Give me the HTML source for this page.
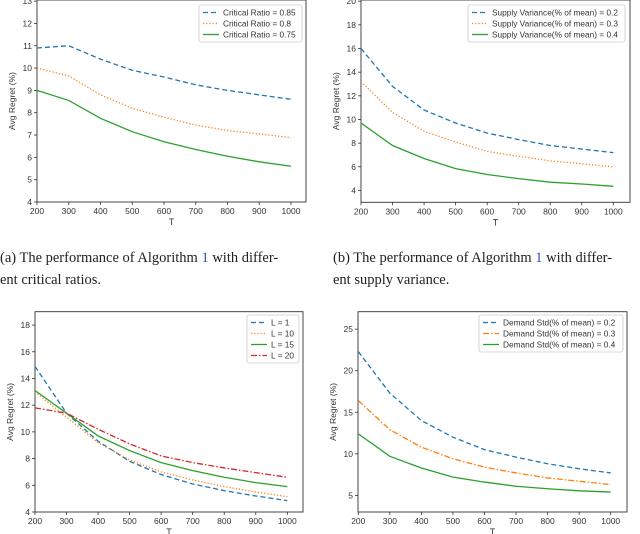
<!DOCTYPE html>
<html><head><meta charset="utf-8"><style>
body{margin:0;background:#fff;width:640px;height:534px;overflow:hidden;position:relative;font-family:"Liberation Serif",serif}
.cap{position:absolute;font-size:14.5px;line-height:22px;color:#222;white-space:nowrap}
.cap span{color:#2a52be}
svg{position:absolute;left:0;top:0}
</style></head><body>
<svg id="svg" width="640" height="534" font-family="Liberation Sans, sans-serif"></svg>
<div class="cap" style="left:0;top:247px">(a) The performance of Algorithm <span>1</span> with differ-<br>ent critical ratios.</div>
<div class="cap" style="left:333px;top:247px">(b) The performance of Algorithm <span>1</span> with differ-<br>ent supply variance.</div>
<script>
const xs=[200,300,400,500,600,700,800,900,1000];
const xTicks=[200,300,400,500,600,700,800,900,1000];
const c1Labels=["Critical Ratio = 0.85","Critical Ratio = 0.8","Critical Ratio = 0.75"];
const c1Blue=[10.9,11.0,10.4,9.9,9.6,9.25,9.0,8.8,8.6];
const c1Orange=[10.0,9.65,8.8,8.2,7.8,7.45,7.2,7.05,6.88];
const c1Green=[9.0,8.55,7.75,7.15,6.7,6.35,6.05,5.8,5.6];
const c1YTicks=[4,5,6,7,8,9,10,11,12,13];
const c2Labels=["Supply Variance(% of mean) = 0.2","Supply Variance(% of mean) = 0.3","Supply Variance(% of mean) = 0.4"];
const c2Blue=[16.0,12.8,10.8,9.7,8.85,8.3,7.8,7.5,7.2];
const c2Orange=[13.2,10.6,9.0,8.1,7.3,6.9,6.5,6.25,6.0];
const c2Green=[9.7,7.8,6.7,5.85,5.35,5.0,4.7,4.55,4.35];
const c2YTicks=[4,6,8,10,12,14,16,18,20];
const c3Labels=["L = 1","L = 10","L = 15","L = 20"];
const c3L1=[14.9,11.4,9.3,7.8,6.8,6.1,5.6,5.2,4.85];
const c3L10=[13.0,11.1,9.2,7.9,7.0,6.4,5.9,5.5,5.15];
const c3L15=[13.1,11.4,9.7,8.6,7.7,7.1,6.6,6.2,5.9];
const c3L20=[11.8,11.4,10.2,9.1,8.2,7.7,7.3,6.95,6.6];
const c3YTicks=[4,6,8,10,12,14,16,18];
const c4Labels=["Demand Std(% of mean) = 0.2","Demand Std(% of mean) = 0.3","Demand Std(% of mean) = 0.4"];
const c4Blue=[22.3,17.3,14.0,12.0,10.5,9.6,8.8,8.2,7.7];
const c4Orange=[16.4,12.9,10.8,9.4,8.4,7.7,7.1,6.7,6.3];
const c4Green=[12.4,9.7,8.3,7.2,6.6,6.1,5.8,5.55,5.4];
const c4YTicks=[5,10,15,20,25];

const NS="http://www.w3.org/2000/svg";
const svg=document.getElementById('svg');
function mk(tag,attrs,parent){const e=document.createElementNS(NS,tag);for(const k in attrs)e.setAttribute(k,attrs[k]);(parent||svg).appendChild(e);return e;}
const STY={blue:{c:'#1f77b4',d:'5,3'},orange:{c:'#ff7f0e',d:'1.2,2'},green:{c:'#2ca02c',d:''},red:{c:'#d62728',d:'6,2,1.5,2'},orangeDD:{c:'#ff7f0e',d:'6,2,1.5,2'}};
function chart(o){
  const g=mk('g',{});
  
  
  const xF=v=>o.x0+(v-200)/800*(o.x1-o.x0);
  const yF=v=>o.bot-(v-o.ymin)/(o.ymax-o.ymin)*(o.bot-o.top);
  const fr=mk('rect',{x:o.L,y:o.top,width:o.R-o.L,height:o.bot-o.top,fill:'none',stroke:'#333','stroke-width':0.9},g);
  
  
  xTicks.forEach(t=>{const x=xF(t);mk('line',{x1:x,x2:x,y1:o.bot,y2:o.bot+3,stroke:'#333','stroke-width':0.8},g);
    const tx=mk('text',{x:x,y:o.bot+12,'font-size':8.5,'text-anchor':'middle',fill:'#333'},g);tx.textContent=t;
    
    });
  o.yt.forEach(t=>{const y=yF(t);if(y<o.top-1)return;mk('line',{x1:o.L-3,x2:o.L,y1:y,y2:y,stroke:'#333','stroke-width':0.8},g);
    const tx=mk('text',{x:o.L-5,y:y+3,'font-size':8.5,'text-anchor':'end',fill:'#333'},g);tx.textContent=t;
    
    });
  const xl=mk('text',{x:(o.L+o.R)/2,y:o.bot+23,'font-size':9,'text-anchor':'middle',fill:'#333'},g);xl.textContent='T';
  
  
  const yc=(o.top+o.bot)/2,yx=o.L-22;
  const yl=mk('text',{x:yx,y:yc,'font-size':8.5,'text-anchor':'middle',fill:'#333',transform:`rotate(-90 ${yx} ${yc})`},g);yl.textContent='Avg Regret (%)';
  
  
  o.series.forEach((s,i)=>{const st=STY[s.s];
    const p=mk('polyline',{points:s.v.map((v,j)=>xF(xs[j])+','+yF(v)).join(' '),fill:'none',stroke:st.c,'stroke-width':1.3,'stroke-dasharray':st.d},g);
    
    });
  const lg=mk('g',{},g);
  
  
  mk('rect',{x:o.lg[0],y:o.lg[1],width:o.lg[2],height:o.series.length*11+4,fill:'#fff',stroke:'#ccc','stroke-width':0.8,rx:2},lg);
  o.series.forEach((s,i)=>{const st=STY[s.s];const y=o.lg[1]+7.5+i*11;
    mk('line',{x1:o.lg[0]+4,x2:o.lg[0]+20,y1:y,y2:y,stroke:st.c,'stroke-width':1.3,'stroke-dasharray':st.d},lg);
    const t=mk('text',{x:o.lg[0]+24,y:y+3,'font-size':8.3,fill:'#333'},lg);t.textContent=o.labels[i];
    
    });
}
chart({name:'chart-critical-ratio',L:37,R:306,top:0,bot:202,x0:37,x1:291,ymin:4,ymax:13.05,yt:c1YTicks,labels:c1Labels,lg:[199,5,103],
  series:[{s:'blue',v:c1Blue},{s:'orange',v:c1Orange},{s:'green',v:c1Green}]});
chart({name:'chart-supply-variance',L:361,R:630,top:0,bot:202.3,x0:361,x1:613.3,ymin:3,ymax:20.1,yt:c2YTicks,labels:c2Labels,lg:[468,5,157],
  series:[{s:'blue',v:c2Blue},{s:'orange',v:c2Orange},{s:'green',v:c2Green}]});
chart({name:'chart-lead-time',L:35,R:303,top:311.7,bot:512,x0:35,x1:287.3,ymin:4,ymax:19,yt:c3YTicks,labels:c3Labels,lg:[247,315,52],
  series:[{s:'blue',v:c3L1},{s:'orange',v:c3L10},{s:'green',v:c3L15},{s:'red',v:c3L20}]});
chart({name:'chart-demand-std',L:358,R:627,top:311.7,bot:512,x0:358.3,x1:610.7,ymin:3,ymax:27.1,yt:c4YTicks,labels:c4Labels,lg:[479,315,144],
  series:[{s:'blue',v:c4Blue},{s:'orangeDD',v:c4Orange},{s:'green',v:c4Green}]});
</script>
</body></html>
